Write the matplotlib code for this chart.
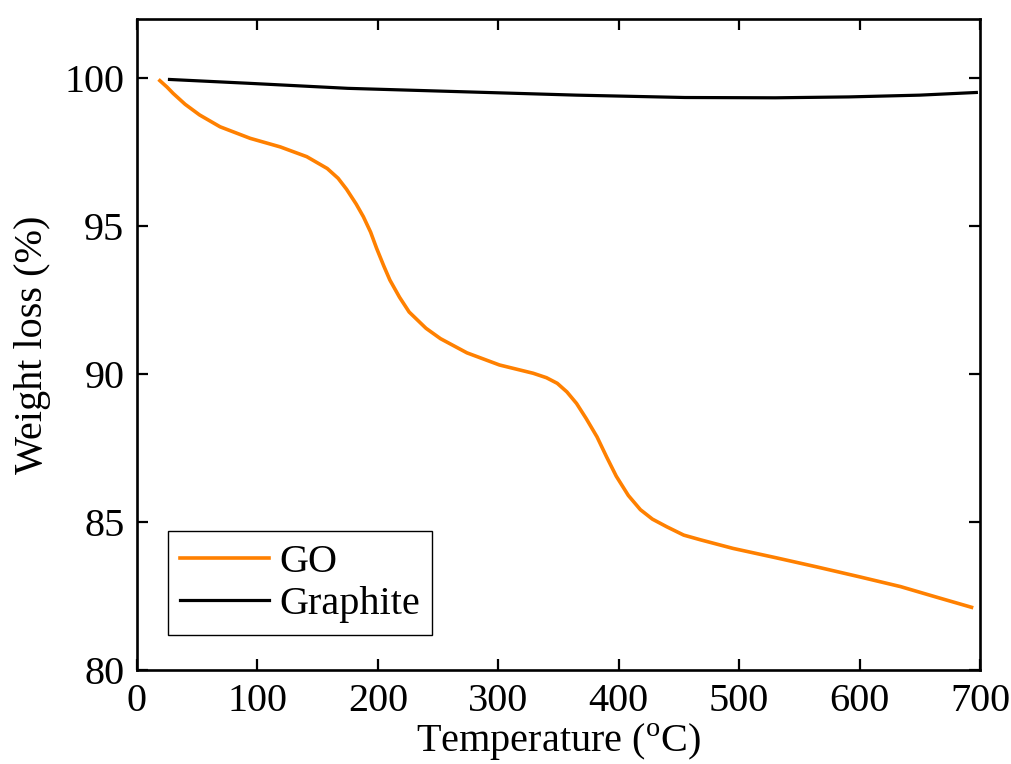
#TGA curves of GO and graphite
import matplotlib
matplotlib.use("Agg")
from matplotlib import pyplot as plt

plt.rcParams['font.family'] = ['Liberation Serif', 'DejaVu Serif']
plt.rcParams['mathtext.fontset'] = 'custom'
plt.rcParams['mathtext.rm'] = 'Liberation Serif'

# GO curve (temperature in C, weight in %)
go_temp = [19, 25, 30, 40, 52, 69, 94, 119, 141, 158, 167, 174, 182, 188,
           194, 199, 205, 210, 218, 226, 240, 252, 274, 301, 329, 340, 349,
           357, 365, 373, 382, 390, 398, 408, 418, 428, 440, 454, 468, 495,
           530, 564, 600, 634, 665, 693]
go_weight = [99.92, 99.7, 99.49, 99.12, 98.76, 98.36, 97.97, 97.68, 97.35,
             96.95, 96.62, 96.25, 95.75, 95.32, 94.8, 94.25, 93.65, 93.18,
             92.6, 92.1, 91.55, 91.2, 90.72, 90.31, 90.03, 89.88, 89.69, 89.4,
             89.01, 88.5, 87.88, 87.2, 86.55, 85.9, 85.42, 85.1, 84.84, 84.56,
             84.4, 84.11, 83.8, 83.49, 83.15, 82.82, 82.45, 82.12]

# Graphite curve
gr_temp = [27, 93, 175, 274, 365, 455, 530, 591, 650, 697]
gr_weight = [99.96, 99.83, 99.66, 99.54, 99.43, 99.35, 99.34, 99.37, 99.43, 99.52]

xticks = [0, 100, 200, 300, 400, 500, 600, 700]
yticks = [80, 85, 90, 95, 100]

fig = plt.figure(figsize=(10.11, 7.64), dpi=100)
ax = fig.add_axes([0.1355, 0.123, 0.8338, 0.852])

ax.plot(go_temp, go_weight, color='#FF8000', linewidth=2.6, label='GO')
ax.plot(gr_temp, gr_weight, color='black', linewidth=2.3, label='Graphite')

ax.set_xlim(0, 700)
ax.set_ylim(80, 102)
ax.set_xticks(xticks)
ax.set_yticks(yticks)
ax.tick_params(direction='in', top=True, right=True, length=8, width=1.6,
               labelsize=29, pad=9)
for s in ax.spines.values():
    s.set_linewidth(1.9)

ax.set_xlabel(r'Temperature ($^{\rm o}$C)', fontsize=29, labelpad=1)
ax.set_ylabel('Weight loss (%)', fontsize=29, labelpad=10)

leg = ax.legend(loc='lower left', bbox_to_anchor=(0.037, 0.054), borderaxespad=0,
                fontsize=29, fancybox=False, edgecolor='black', framealpha=1,
                handlelength=2.2, handletextpad=0.25, labelspacing=0.12,
                borderpad=0.3)
leg.get_frame().set_linewidth(1.0)

plt.savefig('out.png', dpi=100)
